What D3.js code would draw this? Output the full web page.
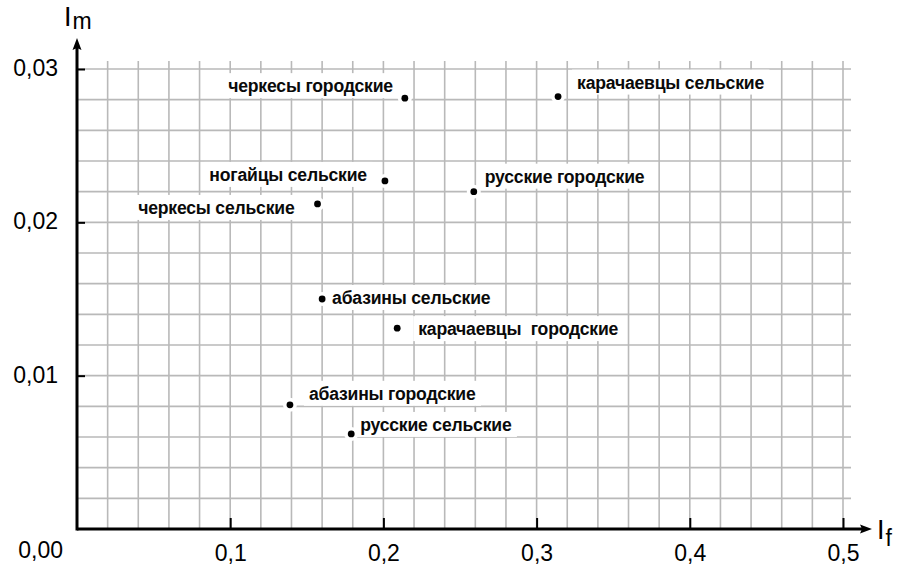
<!DOCTYPE html>
<html>
<head>
<meta charset="utf-8">
<script src="https://cdn.jsdelivr.net/npm/d3@7"></script>
<style>
  html, body { margin: 0; padding: 0; background: #fff; }
  svg { display: block; font-family: "Liberation Sans", Arial, sans-serif; }
</style>
</head>
<body>
<svg id="chart" width="905" height="571"></svg>
<script>
// Groups of the population (urban / rural)
const categories = [
  "черкесы городские",
  "карачаевцы сельские",
  "ногайцы сельские",
  "русские городские",
  "черкесы сельские",
  "абазины сельские",
  "карачаевцы  городские",
  "абазины городские",
  "русские сельские"
];
// I_f index (horizontal) and I_m index (vertical) for each group
const ifValues = [0.214, 0.314, 0.201, 0.259, 0.157, 0.160, 0.209, 0.139, 0.179];
const imValues = [0.0281, 0.0282, 0.0227, 0.0220, 0.0212, 0.0150, 0.0131, 0.0081, 0.0062];

// Axis ticks and their labels
const xTicks = [0.1, 0.2, 0.3, 0.4, 0.5];
const xTickLabels = ["0,1", "0,2", "0,3", "0,4", "0,5"];
const yTicks = [0.01, 0.02, 0.03];
const yTickLabels = ["0,01", "0,02", "0,03"];
const originLabel = "0,00";

const svg = d3.select("#chart");

const x = d3.scaleLinear().domain([0, 0.5]).range([77, 843]);
const y = d3.scaleLinear().domain([0, 0.03]).range([529, 69]);

// Grid every 0.02 on I_f and every 0.002 on I_m
const xGrid = d3.range(1, 26).map(i => i * 0.02);
const yGrid = d3.range(1, 16).map(i => i * 0.002);

const grid = svg.append("g").attr("stroke", "#b9b9b9").attr("stroke-width", 1.6);
grid.selectAll("line.v").data(xGrid).join("line")
  .attr("x1", d => x(d)).attr("x2", d => x(d))
  .attr("y1", y(0)).attr("y2", y(0.03) - 8);
grid.selectAll("line.h").data(yGrid).join("line")
  .attr("x1", x(0)).attr("x2", x(0.5) + 8)
  .attr("y1", d => y(d)).attr("y2", d => y(d));

// Label placement around each point
const labelPlacement = [
  { anchor: "end",   dx: -12, dy: -12 },
  { anchor: "start", dx: 19,  dy: -14 },
  { anchor: "end",   dx: -18, dy: -6 },
  { anchor: "start", dx: 11,  dy: -15 },
  { anchor: "end",   dx: -23, dy: 4 },
  { anchor: "start", dx: 10,  dy: -1 },
  { anchor: "start", dx: 21,  dy: 1 },
  { anchor: "start", dx: 19,  dy: -11 },
  { anchor: "start", dx: 9,   dy: -9 }
];

const points = categories.map((name, i) => ({
  name, fx: ifValues[i], mx: imValues[i], place: labelPlacement[i]
}));

const labels = svg.append("g");
const lg = labels.selectAll("g").data(points).join("g");
lg.append("rect").attr("fill", "#fff");
lg.append("text")
  .attr("x", d => x(d.fx) + d.place.dx)
  .attr("y", d => y(d.mx) + d.place.dy)
  .attr("dy", "0.36em")
  .attr("text-anchor", d => d.place.anchor)
  .attr("font-size", 17.6)
  .attr("font-weight", "bold")
  .attr("letter-spacing", "-0.2px")
  .attr("fill", "#0a0a0a")
  .style("white-space", "pre")
  .text(d => d.name);
lg.each(function() {
  const g = d3.select(this);
  const b = g.select("text").node().getBBox();
  const cy = +g.select("text").attr("y");
  g.select("rect")
    .attr("x", b.x - 5).attr("width", b.width + 10)
    .attr("y", cy - 13).attr("height", 25);
});

// Markers
const dots = svg.append("g");
dots.selectAll("circle.halo").data(points).join("circle")
  .attr("cx", d => x(d.fx)).attr("cy", d => y(d.mx))
  .attr("r", 7).attr("fill", "#fff");
dots.selectAll("circle.dot").data(points).join("circle")
  .attr("cx", d => x(d.fx)).attr("cy", d => y(d.mx))
  .attr("r", 3.4).attr("fill", "#000");

// Axes with tick labels
const fmtX = d => xTickLabels[xTicks.indexOf(d)];
const fmtY = d => yTickLabels[yTicks.indexOf(d)];

const xAxis = svg.append("g").attr("transform", `translate(0,${y(0)})`)
  .call(d3.axisBottom(x).tickValues(xTicks).tickFormat(fmtX).tickSize(-11).tickPadding(16));
const yAxis = svg.append("g").attr("transform", `translate(${x(0)},0)`)
  .call(d3.axisLeft(y).tickValues(yTicks).tickFormat(fmtY).tickSize(-8).tickPadding(19));

[xAxis, yAxis].forEach(a => {
  a.select(".domain").remove();
  a.selectAll(".tick line").attr("stroke", "#000").attr("stroke-width", 2);
  a.selectAll(".tick text")
    .attr("font-size", 23)
    .attr("font-family", "'Liberation Sans', Arial, sans-serif")
    .attr("fill", "#000");
});
yAxis.selectAll(".tick text").attr("dy", "0.28em");

svg.append("text")
  .attr("x", 63).attr("y", 558)
  .attr("text-anchor", "end")
  .attr("font-size", 23)
  .text(originLabel);

// Axis lines with arrowheads
const axisLines = svg.append("g").attr("stroke", "#000").attr("stroke-width", 3).attr("fill", "none");
axisLines.append("line")
  .attr("x1", x(0)).attr("x2", 866)
  .attr("y1", y(0)).attr("y2", y(0));
axisLines.append("line")
  .attr("x1", x(0)).attr("x2", x(0))
  .attr("y1", y(0) + 1.5).attr("y2", 44);

svg.append("path")
  .attr("d", `M872,${y(0)} L860,${y(0) - 4.5} L862,${y(0)} L860,${y(0) + 4.5} Z`)
  .attr("fill", "#000");
svg.append("path")
  .attr("d", `M${x(0)},38 L${x(0) - 4.5},50 L${x(0)},48 L${x(0) + 4.5},50 Z`)
  .attr("fill", "#000");

// Axis titles
const tm = svg.append("text").attr("x", 64).attr("y", 26).attr("font-size", 27);
tm.append("tspan").text("I");
tm.append("tspan").attr("dx", 1).attr("dy", 3).attr("font-size", 23).text("m");

const tf = svg.append("text").attr("x", 877).attr("y", 539).attr("font-size", 27);
tf.append("tspan").text("I");
tf.append("tspan").attr("dx", 1).attr("dy", 7).attr("font-size", 23).text("f");
</script>
</body>
</html>
